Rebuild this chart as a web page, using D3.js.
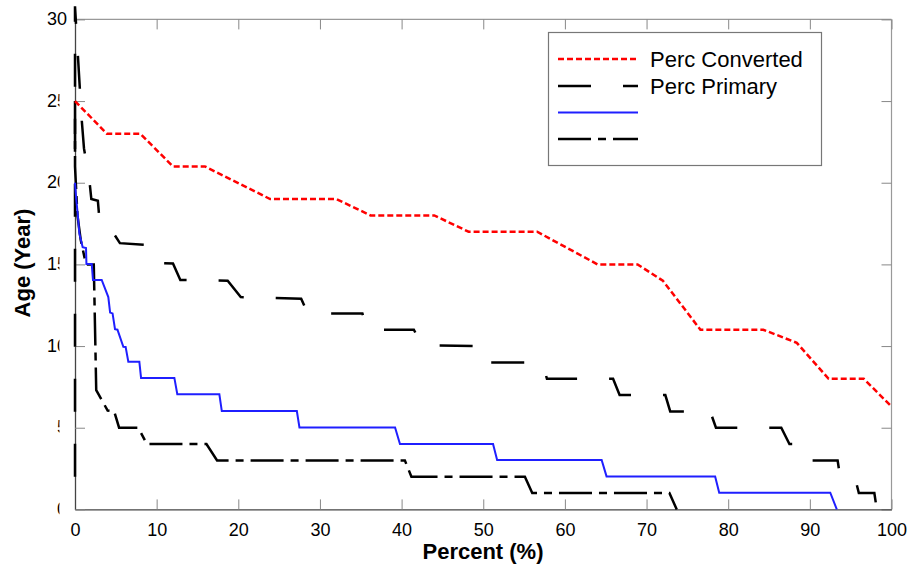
<!DOCTYPE html>
<html>
<head>
<meta charset="utf-8">
<script src="https://cdn.jsdelivr.net/npm/d3@7"></script>
<style>
  body { margin: 0; background: #fff; }
  svg { display: block; font-family: "Liberation Sans", Arial, sans-serif; }
</style>
</head>
<body>
<svg id="chart" width="907" height="567"></svg>
<script>
// ---- data ----
const seriesNames = ["Perc Converted", "Perc Primary", "", ""];

const convertedX = [0, 3.9, 8.0, 12.0, 15.9, 23.9, 32.0, 36.2, 44.0, 48.2, 56.6, 64.0, 68.9, 72.0, 76.6, 84.3, 88.4, 92.3, 96.6, 100];
const convertedY = [25, 23, 23, 21, 21, 19, 19, 18, 18, 17, 17, 15, 15, 14, 11, 11, 10.2, 8, 8, 6.3];

const primaryX = [0, 0, 0.8, 1.1, 1.75, 2.0, 2.8, 2.95, 3.9, 4.6, 5.5, 8.5, 9.5, 12.0, 12.9, 18.7, 20.3, 27.7, 28.5, 35.2, 35.8, 41.5, 42.5, 49.8, 50.2, 57.2, 57.8, 65.9, 66.7, 72.3, 72.9, 77.8, 78.5, 86.5, 87.5, 89.6, 90.3, 93.4, 93.7, 95.5, 96.0, 97.9, 98.2];
const primaryY = [2, 30.8, 24, 22.1, 20.2, 19.0, 18.9, 18.0, 18.0, 17.0, 16.3, 16.2, 15.1, 15.05, 14.05, 14.0, 13.0, 12.9, 12.0, 12.0, 11.0, 11.0, 10.05, 10.0, 9.0, 9.0, 8.0, 8.0, 7.0, 7.0, 6.0, 6.0, 5.0, 5.0, 4.0, 4.0, 3.0, 3.0, 2.0, 2.0, 1.0, 1.0, 0];

const blueX = [0, 0.15, 0.33, 0.53, 0.94, 1.35, 1.4, 2.05, 2.2, 3.27, 4.08, 4.3, 4.6, 4.9, 5.2, 5.92, 6.2, 6.53, 7.88, 8.09, 12.17, 12.53, 17.68, 17.98, 27.17, 27.49, 39.2, 39.8, 51.2, 51.7, 64.5, 65.1, 78.4, 78.9, 92.5, 93.3];
const blueY = [20, 19, 18.1, 16.9, 16.05, 16.0, 15.03, 15.03, 14.05, 14.05, 13.0, 12.05, 12.0, 11.03, 11.0, 9.96, 9.95, 9.04, 9.04, 8.05, 8.05, 7.05, 7.05, 6.02, 6.02, 5.02, 5.02, 4.0, 4.0, 3.02, 3.02, 2.02, 2.02, 1.02, 1.02, 0];

const dashDotX = [0, 0, 0.3, 0.7, 1.35, 2.3, 2.6, 4.0, 4.8, 5.4, 7.75, 8.8, 16.1, 17.4, 40.4, 41.2, 55.1, 56.0, 72.8, 73.7];
const dashDotY = [25, 21, 18, 16.5, 15.0, 15.0, 7.3, 6.05, 6.0, 5.0, 5.0, 4.0, 4.0, 3.0, 3.0, 2.0, 2.0, 1.0, 1.0, 0];

const xTicks = [0, 10, 20, 30, 40, 50, 60, 70, 80, 90, 100];
const yTicks = [0, 5, 10, 15, 20, 25, 30];

// ---- layout ----
const svg = d3.select("#chart");
const mLeft = 75, mRight = 891.5, mTop = 19.4, mBottom = 509.4;
const x = d3.scaleLinear().domain([0, 100]).range([mLeft, mRight]);
const y = d3.scaleLinear().domain([0, 30]).range([mBottom, mTop]);

const styles = [
  { color: "#ff0000", width: 2.5, dash: "6,3" },
  { color: "#000000", width: 2.5, dash: "33,32" },
  { color: "#1f1fff", width: 2, dash: null },
  { color: "#000000", width: 2.5, dash: "33,7,8,7" }
];

// clip for y tick labels (reference shows them partly masked)
const defs = svg.append("defs");
const cp = defs.append("clipPath").attr("id", "ylabclip");
cp.append("rect").attr("x", 0).attr("y", 0).attr("width", 907).attr("height", 88);
cp.append("rect").attr("x", 0).attr("y", 88).attr("width", 59.5).attr("height", 479);

// frame (top & right)
svg.append("line").attr("x1", mLeft).attr("x2", mRight).attr("y1", mTop).attr("y2", mTop)
  .attr("stroke", "#999").attr("stroke-width", 1.2);
svg.append("line").attr("x1", mRight).attr("x2", mRight).attr("y1", mTop).attr("y2", mBottom)
  .attr("stroke", "#999").attr("stroke-width", 1.2);

// top ticks / right ticks
svg.append("g").attr("transform", `translate(0,${mTop})`)
  .call(d3.axisTop(x).tickValues(xTicks).tickSizeInner(-10).tickSizeOuter(0).tickFormat(""))
  .call(g => g.select(".domain").remove())
  .call(g => g.selectAll("line").attr("stroke", "#888"));
svg.append("g").attr("transform", `translate(${mRight},0)`)
  .call(d3.axisRight(y).tickValues(yTicks).tickSizeInner(-10).tickSizeOuter(0).tickFormat(""))
  .call(g => g.select(".domain").remove())
  .call(g => g.selectAll("line").attr("stroke", "#888"));

// bottom axis
const xAxis = svg.append("g").attr("transform", `translate(0,${mBottom})`)
  .call(d3.axisBottom(x).tickValues(xTicks).tickSizeInner(-10).tickSizeOuter(0).tickPadding(14));
xAxis.select(".domain").attr("stroke", "#444").attr("stroke-width", 1.3);
xAxis.selectAll("line").attr("stroke", "#888");
xAxis.selectAll("text").attr("font-size", 18).attr("fill", "#000")
  .attr("font-family", "Liberation Sans, Arial, sans-serif");

// left axis (labels moved to a clipped layer)
const yAxis = svg.append("g").attr("transform", `translate(${mLeft},0)`)
  .call(d3.axisLeft(y).tickValues(yTicks).tickSizeInner(-10).tickSizeOuter(0).tickFormat(""));
yAxis.select(".domain").attr("stroke", "#444").attr("stroke-width", 1.3);
yAxis.selectAll("line").attr("stroke", "#888");
const labelLayer = svg.append("g").attr("clip-path", "url(#ylabclip)");
labelLayer.selectAll("text").data(yTicks).join("text")
  .attr("x", mLeft - 8).attr("y", d => y(d)).attr("dy", "0.32em")
  .attr("text-anchor", "end").attr("font-size", 18).attr("fill", "#000")
  .text(d => d);

// series lines
const line = d3.line().x(d => x(d[0])).y(d => y(d[1]));
const seriesData = [
  d3.zip(convertedX, convertedY),
  d3.zip(primaryX, primaryY),
  d3.zip(blueX, blueY),
  d3.zip(dashDotX, dashDotY)
];
const drawOrder = [1, 3, 2, 0];
drawOrder.forEach(i => {
  const s = styles[i];
  svg.append("path").datum(seriesData[i])
    .attr("d", line)
    .attr("fill", "none")
    .attr("stroke", s.color)
    .attr("stroke-width", s.width)
    .attr("stroke-dasharray", s.dash)
    .attr("stroke-linejoin", "miter");
});

// legend
const lg = svg.append("g");
lg.append("rect").attr("x", 548.5).attr("y", 32.5).attr("width", 273).attr("height", 133)
  .attr("fill", "#fff").attr("stroke", "#777").attr("stroke-width", 1.2);
const rowsY = [59, 86, 112.5, 139];
styles.forEach((s, i) => {
  lg.append("line").attr("x1", 558).attr("x2", 638).attr("y1", rowsY[i]).attr("y2", rowsY[i])
    .attr("stroke", s.color).attr("stroke-width", s.width).attr("stroke-dasharray", s.dash);
  if (seriesNames[i]) {
    lg.append("text").attr("x", 650).attr("y", rowsY[i]).attr("dy", "0.36em")
      .attr("font-size", 22).attr("fill", "#000").text(seriesNames[i]);
  }
});

// axis titles
svg.append("text").attr("x", 483).attr("y", 559).attr("text-anchor", "middle")
  .attr("font-size", 22).attr("font-weight", "bold").text("Percent (%)");
svg.append("text").attr("transform", "translate(30,263) rotate(-90)").attr("text-anchor", "middle")
  .attr("font-size", 22).attr("font-weight", "bold").text("Age (Year)");
</script>
</body>
</html>
